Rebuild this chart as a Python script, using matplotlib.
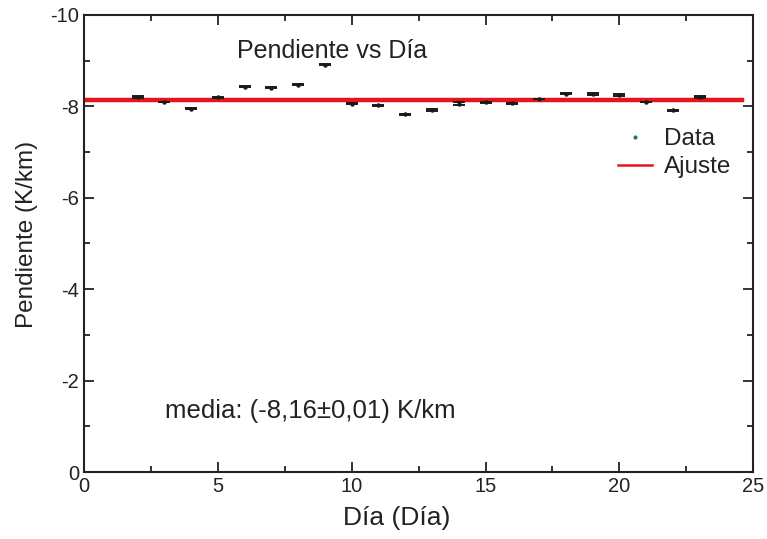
import matplotlib
matplotlib.use("Agg")
import matplotlib.pyplot as plt
from matplotlib.ticker import MultipleLocator
from matplotlib.lines import Line2D

plt.rcParams['font.family'] = ['Liberation Sans', 'DejaVu Sans']

dias = [2, 3, 4, 5, 6, 7, 8, 9, 10, 11, 12, 13, 14, 15, 16, 17, 18, 19, 20, 21, 22, 23]
pendiente = [-8.20, -8.09, -7.95, -8.20, -8.43, -8.41, -8.47, -8.91, -8.06, -8.02, -7.83,
             -7.92, -8.06, -8.09, -8.07, -8.17, -8.28, -8.27, -8.25, -8.09, -7.91, -8.20]
errores = [0.02, 0.0, 0.01, 0.01, 0.01, 0.01, 0.01, 0.01, 0.01, 0.02, 0.01,
           0.02, 0.03, 0.01, 0.01, 0.0, 0.02, 0.02, 0.02, 0.0, 0.02, 0.02]
ajuste_x = [0, 24.6]
ajuste_valor = -8.13

fig = plt.figure(figsize=(7.67, 5.39), dpi=100)
ax = fig.add_axes([0.1095, 0.1243, 0.8725, 0.848])

ax.plot(ajuste_x, [ajuste_valor, ajuste_valor], color='#e8141b', lw=3.2, zorder=2)
ax.errorbar(dias, pendiente, yerr=errores, fmt='o', ms=2.2, color='#1a1a1a',
            ecolor='#1a1a1a', elinewidth=1, capsize=4.5, capthick=1.4, zorder=3)

ax.set_xlim(0, 25)
ax.set_ylim(0, -10)
ax.xaxis.set_major_locator(MultipleLocator(5))
ax.xaxis.set_minor_locator(MultipleLocator(2.5))
ax.yaxis.set_major_locator(MultipleLocator(2))
ax.yaxis.set_minor_locator(MultipleLocator(1))
ax.tick_params(which='both', direction='in', top=True, right=True, labelsize=14.5,
               width=1.3, color='#222222', labelcolor='#222222')
ax.tick_params(which='major', length=7)
ax.tick_params(which='minor', length=4)
ax.set_yticks([0, -2, -4, -6, -8, -10])
ax.set_yticklabels(['0', '-2', '-4', '-6', '-8', '-10'])
for s in ax.spines.values():
    s.set_linewidth(1.5)
    s.set_color('#222222')

ax.set_xlabel('Día (Día)', fontsize=19, color='#222222')
ax.xaxis.set_label_coords(0.468, -0.075)
ax.set_ylabel('Pendiente (K/km)', fontsize=17.5, color='#222222')
ax.yaxis.set_label_coords(-0.068, 0.52)

ax.text(9.25, -9.2, 'Pendiente vs Día', fontsize=18, ha='center', va='center', color='#222222')
ax.text(3.03, -1.33, 'media: (-8,16±0,01) K/km', fontsize=18.5, ha='left', va='center', color='#222222')

h_data = Line2D([], [], ls='none', marker='o', ms=2, color='#2f6f5f')
h_fit = Line2D([], [], color='#e8141b', lw=1.8)
ax.legend([h_data, h_fit], ['Data', 'Ajuste'], loc='upper right',
          bbox_to_anchor=(1.0, 0.80), frameon=False, fontsize=17.5, handlelength=1.4,
          handletextpad=0.5, labelspacing=0.25, labelcolor='#222222')

fig.savefig('out.png', dpi=100)
